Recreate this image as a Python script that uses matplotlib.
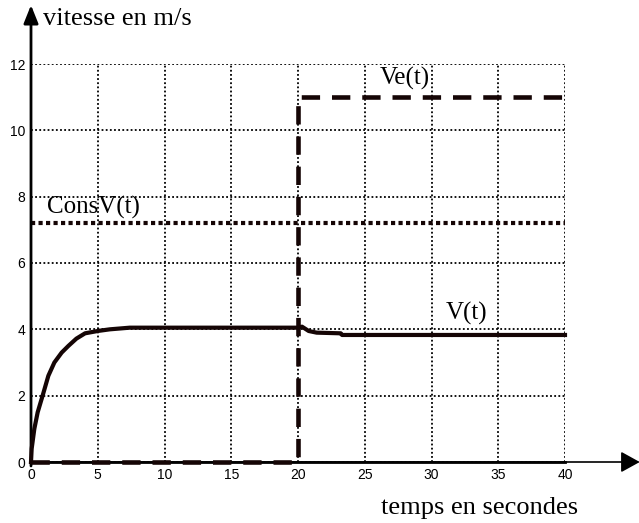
import matplotlib
matplotlib.use("Agg")
import matplotlib.pyplot as plt

# ------------------------------------------------------------
# Données
# ------------------------------------------------------------
t_v = [0, 0.05, 0.25, 0.5, 0.87, 1.3, 1.75, 2.3, 2.8, 3.4, 4.05, 5, 5.9, 7.4,
       20, 20.3, 20.8, 21.4, 23.2, 23.3, 40]
v = [0, 0.4, 1.0, 1.5, 2.0, 2.6, 3.0, 3.3, 3.5, 3.72, 3.88, 3.95, 4.0, 4.05,
     4.05, 4.08, 3.95, 3.9, 3.88, 3.83, 3.83]

t_ve = [0, 20, 20, 40]
ve = [0, 0, 11, 11]

t_cons = [0, 40]
cons_v = [7.2, 7.2]

x_ticks = [0, 5, 10, 15, 20, 25, 30, 35, 40]
y_ticks = [0, 2, 4, 6, 8, 10, 12]

INK = "#150505"
SERIF = ["Liberation Serif", "DejaVu Serif"]

plt.rcParams.update({
    "font.family": ["Liberation Sans", "DejaVu Sans"],
    "font.size": 10,
})

fig = plt.figure(figsize=(6.39, 5.23), dpi=100)
ax = fig.add_axes([31 / 639, 61 / 523, 534 / 639, 398 / 523])
ax.set_xlim(0, 40)
ax.set_ylim(0, 12)
ax.set_xticks(x_ticks)
ax.set_yticks(y_ticks)
ax.tick_params(length=0, labelsize=10, pad=4)

for s in ax.spines.values():
    s.set_visible(False)

ax.grid(True, color="black", linestyle=(0, (1, 1.3)), linewidth=1.3)

# courbes
ax.plot(t_cons, cons_v, color=INK, lw=3, linestyle=(0, (1, 0.8)),
        dash_capstyle="butt", clip_on=False, zorder=3)
ax.plot(t_ve, ve, color=INK, lw=3.3, linestyle=(0, (4, 2.6)),
        dash_capstyle="butt", clip_on=False, zorder=4)
ax.plot(t_v, v, color=INK, lw=3, clip_on=False, zorder=5)

# axes avec flèches
ax.plot([0, 1], [0, 0], transform=ax.transAxes, color="black", lw=2,
        clip_on=False, zorder=2)
ax.annotate("", xy=(1.14, 0), xytext=(0, 0), xycoords="axes fraction",
            arrowprops=dict(arrowstyle="-|>,head_length=0.58,head_width=0.32",
                            color="black", lw=1.2, mutation_scale=20,
                            shrinkA=0, shrinkB=0))
ax.annotate("", xy=(0, 1.148), xytext=(0, -0.01), xycoords="axes fraction",
            arrowprops=dict(arrowstyle="-|>,head_length=0.55,head_width=0.22",
                            color="black", lw=2, mutation_scale=20,
                            shrinkA=0, shrinkB=0))

# textes
ax.text(1.2, 7.5, "ConsV(t)", family=SERIF, fontsize=18, va="baseline")
ax.text(26.1, 11.37, "Ve(t)", family=SERIF, fontsize=18, va="baseline")
ax.text(31.1, 4.28, "V(t)", family=SERIF, fontsize=18, va="baseline")
fig.text(43 / 639, (523 - 25) / 523, "vitesse en m/s", family=SERIF,
         fontsize=19, va="baseline")
fig.text(381 / 639, 9 / 523, "temps en secondes", family=SERIF,
         fontsize=19, va="baseline")

fig.savefig("out.png", dpi=100)
